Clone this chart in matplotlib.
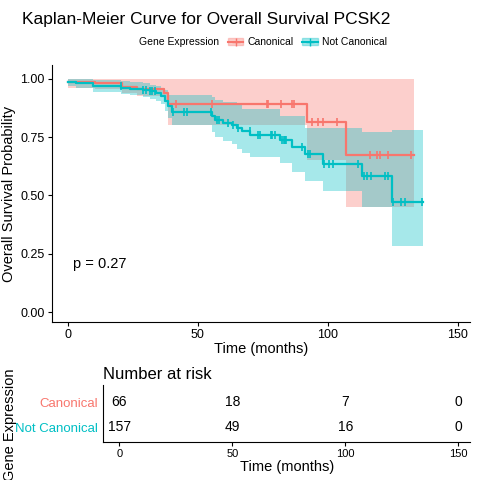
import numpy as np
import matplotlib.pyplot as plt
from matplotlib.lines import Line2D
from matplotlib.patches import Patch

plt.rcParams['font.family'] = ['Liberation Sans', 'DejaVu Sans']

RED = '#F8766D'
TEAL = '#00BFC4'

# Canonical: step times, survival, CI lower/upper after each step
can_t = [0, 10.4, 21, 26.5, 37, 38.5, 92, 107]
can_s = [0.985, 0.98, 0.965, 0.955, 0.94, 0.89, 0.815, 0.675]
can_lo = [0.96, 0.955, 0.94, 0.925, 0.90, 0.80, 0.65, 0.45]
can_hi = [1.0, 1.0, 1.0, 1.0, 1.0, 1.0, 1.0, 1.0]
can_end = 133
can_cens = [41.5, 55.4, 76.5, 77, 82, 86, 87, 94, 96, 98, 103.5, 116, 119, 120, 123, 132]

# Not Canonical
nc_t = [0, 3.3, 9.7, 20.6, 23.8, 29, 31.5, 34, 36, 37.3, 38.6, 39.9, 55.3, 56.6,
        59.8, 63, 65, 66.9, 70.1, 81.7, 86.2, 91.3, 98.3, 113, 124.6]
nc_s = [0.988, 0.982, 0.971, 0.961, 0.957, 0.950, 0.946, 0.940, 0.926, 0.904, 0.883,
        0.857, 0.840, 0.823, 0.811, 0.804, 0.790, 0.775, 0.761, 0.739, 0.708, 0.679,
        0.636, 0.582, 0.470]
nc_lo = [0.97, 0.96, 0.945, 0.935, 0.93, 0.92, 0.915, 0.905, 0.89, 0.86, 0.83, 0.80,
         0.77, 0.75, 0.735, 0.72, 0.70, 0.68, 0.665, 0.64, 0.60, 0.56, 0.52, 0.45, 0.285]
nc_hi = [1.0, 1.0, 0.995, 0.99, 0.985, 0.98, 0.975, 0.97, 0.96, 0.95, 0.93, 0.93,
         0.92, 0.91, 0.90, 0.90, 0.89, 0.87, 0.87, 0.84, 0.84, 0.79, 0.79, 0.77, 0.78]
nc_end = 136.5
nc_cens = [20.5, 29, 30, 31.5, 32.5, 33.5, 40.5, 44.5, 46, 55, 57.5, 58, 61.5, 63.5,
           65.5, 70, 73, 74, 78, 78.5, 79.5, 82.5, 83, 83.5, 84, 90, 92.5, 93, 98.5,
           100.5, 102, 111.5, 114, 115, 116.5, 122, 123, 125, 128, 129.5, 136]

risk_times = [0, 50, 100, 150]
risk_can = [66, 18, 7, 0]
risk_nc = [157, 49, 16, 0]


def surv_at(times, surv, x):
    idx = np.searchsorted(times, x, side='right') - 1
    return np.array(surv)[idx]


fig = plt.figure(figsize=(4.8, 4.8), dpi=100)
ax = fig.add_axes([0.108, 0.329, 0.871, 0.536])

for t, s, lo, hi, end, cens, col in [
        (can_t, can_s, can_lo, can_hi, can_end, can_cens, RED),
        (nc_t, nc_s, nc_lo, nc_hi, nc_end, nc_cens, TEAL)]:
    tt = list(t) + [end]
    ax.fill_between(tt, list(lo) + [lo[-1]], list(hi) + [hi[-1]], step='post',
                    color=col, alpha=0.35, linewidth=0)
    ax.step(tt, list(s) + [s[-1]], where='post', color=col, lw=1.6)
    ax.plot(cens, surv_at(t, s, cens), '|', color=col, ms=6, mew=1.2)

ax.set_xlim(-6.15, 154.6)
ax.set_ylim(-0.043, 1.06)
ax.set_xticks([0, 50, 100, 150])
ax.set_yticks([0, 0.25, 0.5, 0.75, 1.0])
ax.set_yticklabels(['0.00', '0.25', '0.50', '0.75', '1.00'])
ax.set_xlabel('Time (months)', fontsize=10.5, labelpad=1)
ax.set_ylabel('Overall Survival Probability', fontsize=10.5, labelpad=3)
for sp in ['top', 'right']:
    ax.spines[sp].set_visible(False)
ax.tick_params(labelsize=9, length=3, pad=2)
ax.text(2, 0.19, 'p = 0.27', fontsize=10.5)

fig.text(0.046, 0.96, 'Kaplan-Meier Curve for Overall Survival PCSK2', fontsize=12.5, va='center')
handles = [(Patch(color=RED, alpha=0.35), Line2D([], [], color=RED, marker='+')),
           (Patch(color=TEAL, alpha=0.35), Line2D([], [], color=TEAL, marker='+'))]
fig.legend(handles, ['Canonical', 'Not Canonical'], loc='center left', ncol=2,
           bbox_to_anchor=(0.455, 0.912), frameon=False, fontsize=7.5,
           handlelength=1.5, columnspacing=0.8, handletextpad=0.4)
fig.text(0.29, 0.912, 'Gene Expression', fontsize=7.5, va='center')

rt = fig.add_axes([0.215, 0.079, 0.765, 0.119])
rt.set_xlim(-7.1, 155.4)
rt.set_ylim(0, 1)
for x, a, b in zip(risk_times, risk_can, risk_nc):
    rt.text(x, 0.70, str(a), ha='center', va='center', fontsize=10)
    rt.text(x, 0.26, str(b), ha='center', va='center', fontsize=10)
rt.set_yticks([0.70, 0.26])
rt.set_yticklabels(['Canonical', 'Not Canonical'], fontsize=9.5)
for lab, col in zip(rt.get_yticklabels(), [RED, TEAL]):
    lab.set_color(col)
rt.tick_params(axis='y', length=0, pad=4)
rt.set_xticks([0, 50, 100, 150])
rt.tick_params(axis='x', labelsize=8, length=3, pad=2)
rt.set_xlabel('Time (months)', fontsize=10.5, labelpad=1)
rt.set_ylabel('Gene Expression', fontsize=10.5)
rt.yaxis.set_label_coords(-0.235, 0.3)
rt.set_title('Number at risk', loc='left', fontsize=12, pad=4)
for sp in ['top', 'right']:
    rt.spines[sp].set_visible(False)

fig.savefig('out.png', dpi=100)
